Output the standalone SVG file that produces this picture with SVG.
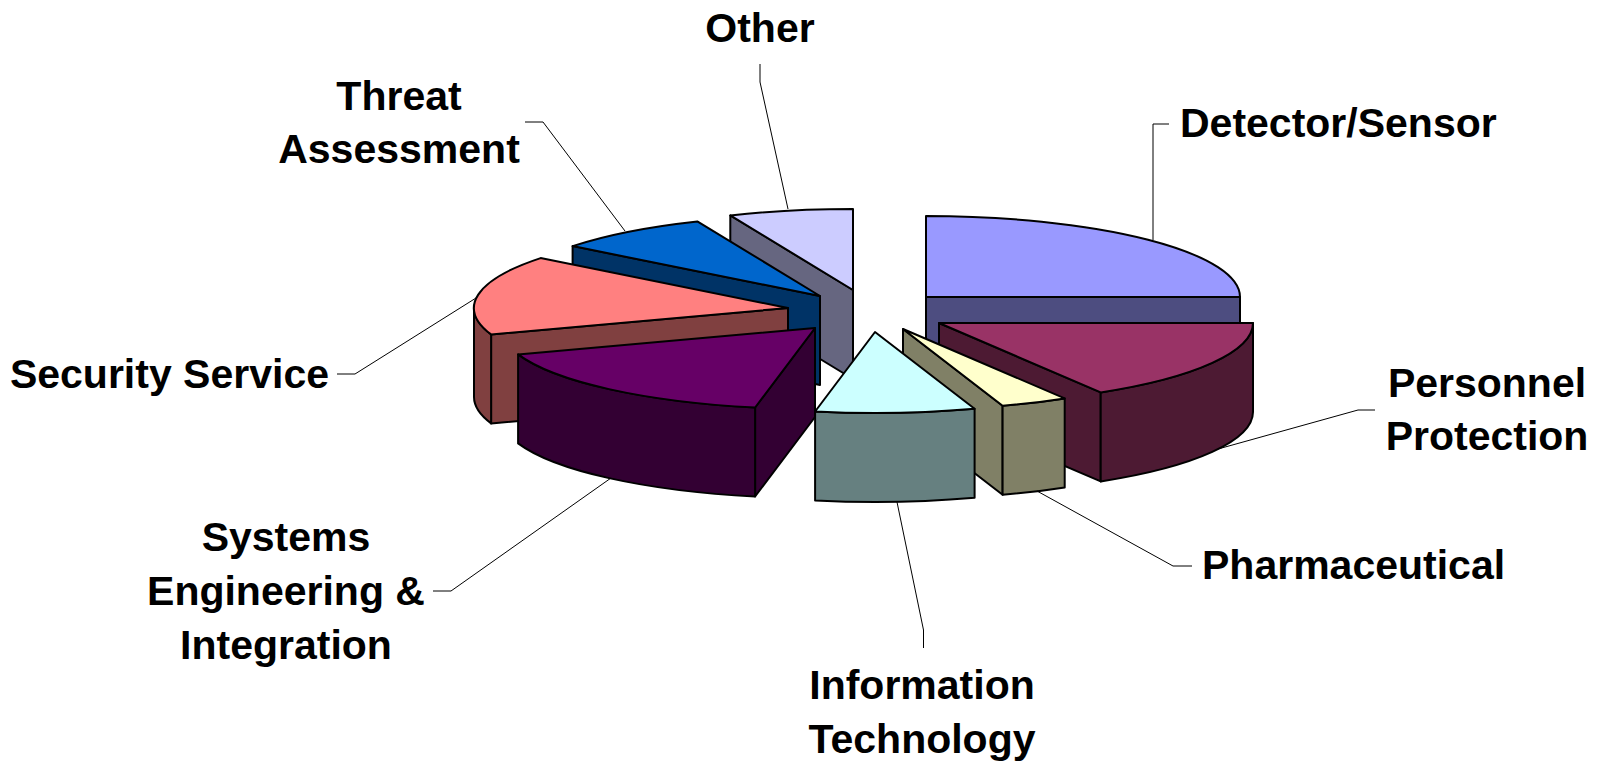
<svg xmlns="http://www.w3.org/2000/svg" width="1598" height="761" viewBox="0 0 1598 761">
  <style>
    .edge { stroke: #000; stroke-width: 2; stroke-linejoin: round; }
    .lead { fill: none; stroke: #000; stroke-width: 1; }
    .lbl { font-family: "Liberation Sans", Arial, sans-serif; font-weight: bold; font-size: 41px; fill: #000; }
    .mid { text-anchor: middle; }
    .end { text-anchor: end; }
  </style>
  <rect width="1598" height="761" fill="#fff"/>

  <!-- 3D pie wedges, ellipse rx=314 ry=81, depth 89; back wedges first -->
  <g id="other">
    <path class="edge" fill="#666680" d="M853,290 L730.3,215.4 L730.3,304.4 L853,379 Z"/>
    <path class="edge" fill="#CCCCFF" d="M853,290 L730.3,215.4 A314 81 0 0 1 853,209 Z"/>
  </g>
  <g id="threat-assessment">
    <path class="edge" fill="#003366" d="M820,296 L572.6,246.1 L572.6,335.1 L820,385 Z"/>
    <path class="edge" fill="#0066CC" d="M820,296 L572.6,246.1 A314 81 0 0 1 697.3,221.4 Z"/>
  </g>
  <g id="detector-sensor">
    <path class="edge" fill="#4D4D80" d="M926,297 L1240,297 L1240,386 L926,386 Z"/>
    <path class="edge" fill="#9999FF" d="M926,297 L926,216 A314 81 0 0 1 1240,297 Z"/>
  </g>
  <g id="security-service">
    <path class="edge" fill="#804040" d="M788,308 L491.1,334.4 L491.1,423.4 L788,397 Z"/>
    <path class="edge" fill="#804040" d="M491.1,334.4 A314 81 0 0 1 474,308 L474,397 A314 81 0 0 0 491.1,423.4 Z"/>
    <path class="edge" fill="#FF8080" d="M788,308 L491.1,334.4 A314 81 0 0 1 540.6,258.1 Z"/>
  </g>
  <g id="personnel-protection">
    <path class="edge" fill="#4D1A33" d="M939,323 L1100.7,392.4 L1100.7,481.4 L939,412 Z"/>
    <path class="edge" fill="#4D1A33" d="M1253,323 A314 81 0 0 1 1100.7,392.4 L1100.7,481.4 A314 81 0 0 0 1253,412 Z"/>
    <path class="edge" fill="#993366" d="M939,323 L1253,323 A314 81 0 0 1 1100.7,392.4 Z"/>
  </g>
  <g id="pharmaceutical">
    <path class="edge" fill="#808066" d="M903,329 L1002.6,405.8 L1002.6,494.8 L903,418 Z"/>
    <path class="edge" fill="#808066" d="M1064.7,398.4 A314 81 0 0 1 1002.6,405.8 L1002.6,494.8 A314 81 0 0 0 1064.7,487.4 Z"/>
    <path class="edge" fill="#FFFFCC" d="M903,329 L1064.7,398.4 A314 81 0 0 1 1002.6,405.8 Z"/>
  </g>
  <g id="systems-engineering-integration">
    <path class="edge" fill="#330033" d="M815,328 L755.1,407.5 L755.1,496.5 L815,417 Z"/>
    <path class="edge" fill="#330033" d="M755.1,407.5 A314 81 0 0 1 518.1,354.4 L518.1,443.4 A314 81 0 0 0 755.1,496.5 Z"/>
    <path class="edge" fill="#660066" d="M815,328 L755.1,407.5 A314 81 0 0 1 518.1,354.4 Z"/>
  </g>
  <g id="information-technology">
    <path class="edge" fill="#668080" d="M974.6,408.8 A314 81 0 0 1 815.1,411.5 L815.1,500.5 A314 81 0 0 0 974.6,497.8 Z"/>
    <path class="edge" fill="#CCFFFF" d="M875,332 L974.6,408.8 A314 81 0 0 1 815.1,411.5 Z"/>
  </g>

  <!-- leader lines from labels to wedges -->
  <g id="connectors">
    <polyline class="lead" points="760,64 760,82 788,209"/>
    <polyline class="lead" points="525,122 543,122 625,231"/>
    <polyline class="lead" points="337,374 355,374 476,298"/>
    <polyline class="lead" points="1169,124 1153,124 1153,240"/>
    <polyline class="lead" points="1375,410 1358,410 1218,449"/>
    <polyline class="lead" points="1192,566 1173,566 1037,491"/>
    <polyline class="lead" points="923.5,648 923.5,630 897,502"/>
    <polyline class="lead" points="433,591 451,591 611,478"/>
  </g>

  <!-- labels -->
  <g id="label-other"><text class="lbl mid" x="760" y="42">Other</text></g>
  <g id="label-threat">
    <text class="lbl mid" x="399" y="110">Threat</text>
    <text class="lbl mid" x="399" y="163">Assessment</text>
  </g>
  <g id="label-security"><text class="lbl end" x="329" y="388">Security Service</text></g>
  <g id="label-detector"><text class="lbl" x="1180" y="137">Detector/Sensor</text></g>
  <g id="label-personnel">
    <text class="lbl mid" x="1487" y="397">Personnel</text>
    <text class="lbl mid" x="1487" y="450">Protection</text>
  </g>
  <g id="label-pharma"><text class="lbl" x="1202" y="579">Pharmaceutical</text></g>
  <g id="label-systems">
    <text class="lbl mid" x="286" y="551">Systems</text>
    <text class="lbl mid" x="286" y="605">Engineering &amp;</text>
    <text class="lbl mid" x="286" y="659">Integration</text>
  </g>
  <g id="label-it">
    <text class="lbl mid" x="922" y="699">Information</text>
    <text class="lbl mid" x="922" y="753">Technology</text>
  </g>
</svg>
